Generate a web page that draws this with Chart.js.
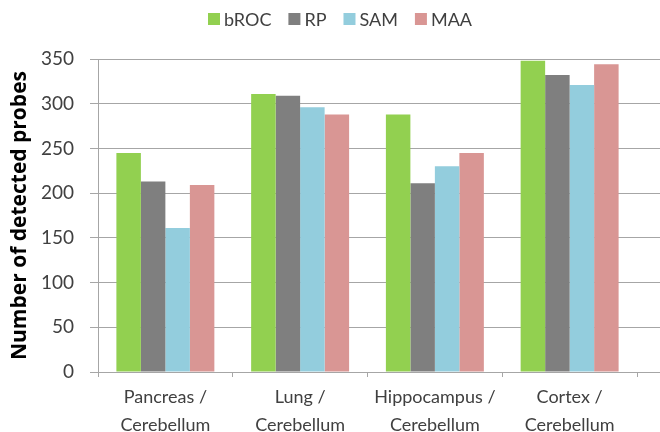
<!DOCTYPE html>
<html>
<head>
<meta charset="utf-8">
<script src="https://cdn.jsdelivr.net/npm/chart.js@4/dist/chart.umd.min.js"></script>
<style>
  html, body { margin: 0; padding: 0; background: #fff; }
  #wrap { width: 660px; height: 432px; position: relative; }
</style>
</head>
<body>
<div id="wrap"><canvas id="c" width="660" height="432"></canvas></div>
<script>
// Sample comparisons (tissue pairs) on the category axis
const categories = [
  ['Pancreas /', 'Cerebellum'],
  ['Lung /', 'Cerebellum'],
  ['Hippocampus /', 'Cerebellum'],
  ['Cortex /', 'Cerebellum']
];

// Number of detected probes per method
const seriesNames = ['bROC', 'RP', 'SAM', 'MAA'];
const bROC = [245, 311, 288, 348];
const RP   = [213, 309, 211, 332];
const SAM  = [161, 296, 230, 321];
const MAA  = [209, 288, 245, 344];

// Value axis
const yTicks = [0, 50, 100, 150, 200, 250, 300, 350];

const colors = ['#92D050', '#7F7F7F', '#93CDDD', '#D99694'];
const FONT = 'Lato';
const gridColor = '#A6A6A6';

// Legend drawn across the top, swatch + label for each dataset
const topLegend = {
  id: 'topLegend',
  afterDraw(chart) {
    const ctx = chart.ctx;
    ctx.save();
    ctx.font = '18px ' + FONT;
    ctx.textBaseline = 'middle';
    ctx.textAlign = 'left';
    let x = 208;
    const cy = 19;
    chart.data.datasets.forEach(ds => {
      ctx.fillStyle = ds.backgroundColor;
      ctx.fillRect(x, cy - 6, 12, 12);
      x += 12 + 4;
      ctx.fillStyle = '#404040';
      ctx.fillText(ds.label, x, cy + 1);
      x += ctx.measureText(ds.label).width + 17;
    });
    ctx.restore();
  }
};

// Horizontal gridlines run from the value axis to the right edge of the canvas
const fullGrid = {
  id: 'fullGrid',
  beforeDatasetsDraw(chart) {
    const ctx = chart.ctx;
    const y = chart.scales.y;
    const area = chart.chartArea;
    ctx.save();
    ctx.strokeStyle = gridColor;
    ctx.lineWidth = 1;
    y.ticks.forEach(t => {
      const py = Math.round(y.getPixelForValue(t.value) - 0.5) + 0.5;
      ctx.beginPath();
      ctx.moveTo(area.left, py);
      ctx.lineTo(chart.width, py);
      ctx.stroke();
    });
    ctx.restore();
  }
};

new Chart(document.getElementById('c'), {
  type: 'bar',
  data: {
    labels: categories,
    datasets: [bROC, RP, SAM, MAA].map((vals, i) => ({
      label: seriesNames[i],
      data: vals,
      backgroundColor: colors[i],
      borderWidth: 0,
      categoryPercentage: 0.727,
      barPercentage: 1
    }))
  },
  options: {
    responsive: false,
    animation: false,
    devicePixelRatio: 1,
    layout: { padding: { top: 59, right: 23, left: 0, bottom: 0 } },
    plugins: {
      legend: { display: false },
      tooltip: { enabled: false }
    },
    scales: {
      x: {
        grid: {
          offset: true,
          drawOnChartArea: false,
          color: (c) => (c.index >= categories.length ? 'rgba(0,0,0,0)' : gridColor),
          tickLength: 5
        },
        border: { display: true, color: gridColor },
        ticks: {
          color: '#404040',
          font: { family: FONT, size: 18, lineHeight: 1.57 },
          padding: 6,
          maxRotation: 0,
          autoSkip: false
        },
        afterFit(scale) { scale.height = 60; }
      },
      y: {
        min: 0,
        max: 350,
        afterBuildTicks(scale) { scale.ticks = yTicks.map(v => ({ value: v })); },
        grid: { color: gridColor, tickLength: 8, drawOnChartArea: false },
        border: { display: true, color: gridColor },
        ticks: {
          color: '#404040',
          font: { family: FONT, size: 19 },
          padding: 16
        },
        title: {
          display: true,
          text: 'Number of detected probes',
          color: '#000',
          font: { family: 'Open Sans', size: 21, weight: 'bold', lineHeight: 1.2 },
          padding: { top: 7 }
        },
        afterFit(scale) { scale.width = 98; }
      }
    }
  },
  plugins: [fullGrid, topLegend]
});
</script>
</body>
</html>
